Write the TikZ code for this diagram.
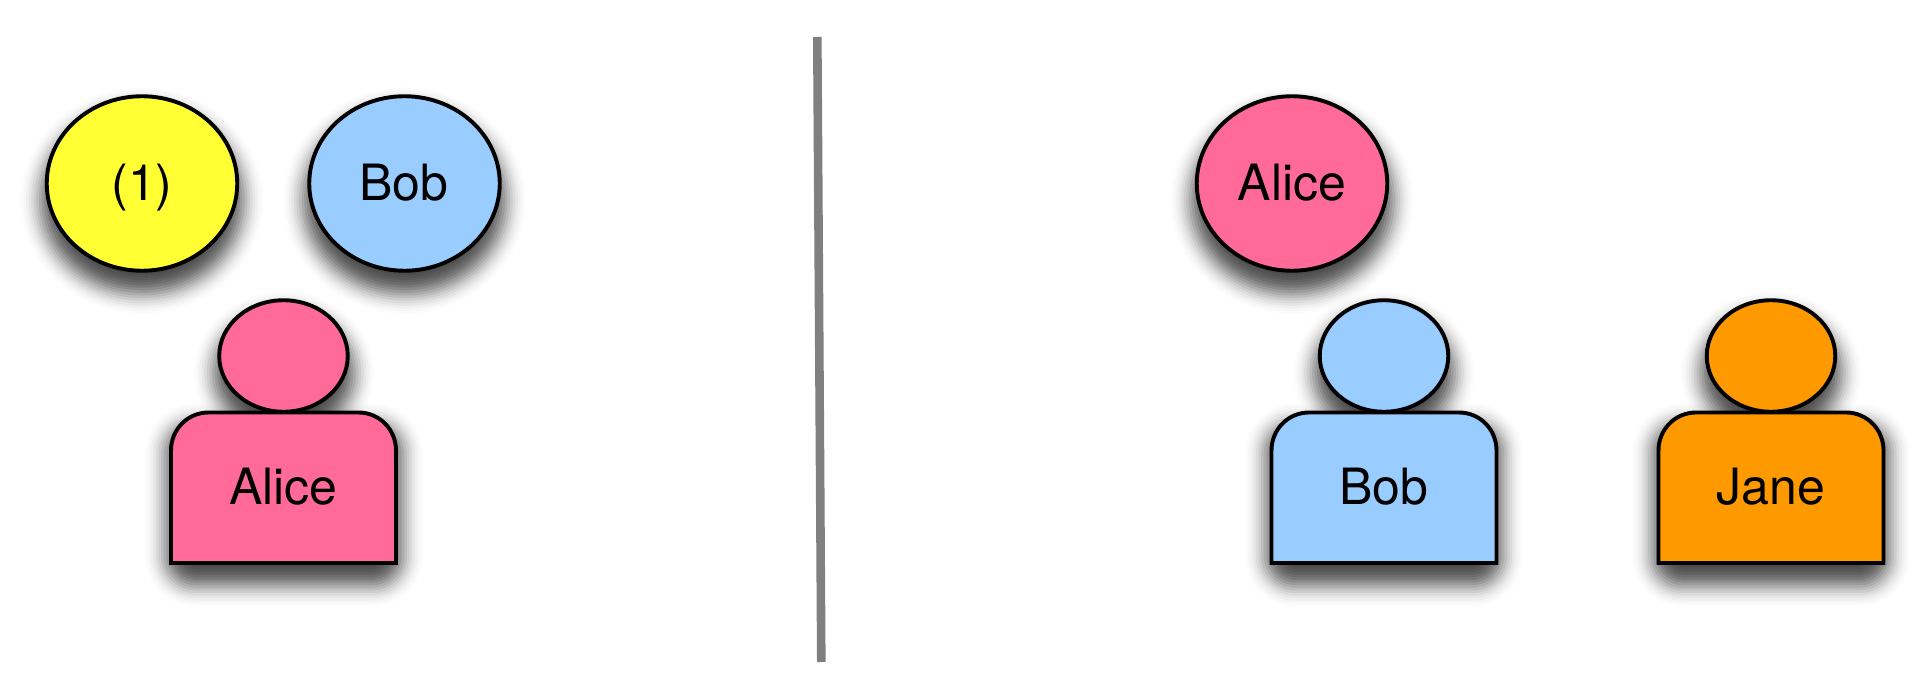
\documentclass[tikz,border=0pt]{standalone}
\usepackage{fontspec}
\setmainfont{TeX Gyre Heros}
\usetikzlibrary{shapes.geometric}
\definecolor{cyellow}{HTML}{FFFF33}
\definecolor{cblue}{HTML}{99CCFF}
\definecolor{cpink}{HTML}{FF6A99}
\definecolor{corange}{HTML}{FF9900}
\definecolor{cline}{HTML}{808080}
\newcommand\shadowlist{26/.012,23.4/.018,20.8/.027,18.2/.037,15.6/.05,13/.063,10.4/.075,7.8/.087,5.2/.097,2.6/.105,0/.108,-2.6/.105,-5.2/.097,-7.8/.087,-10.4/.075,-13/.063,-15.6/.05,-18.2/.037,-20.8/.027,-23.4/.018,-26/.012}
\newcommand\ellshadow[4]{%
  \foreach \r/\a in \shadowlist {%
    \fill[black,fill opacity=\a] (#1,#2+17) ellipse [x radius=#3+\r, y radius=#4+\r];}}
\newcommand\bodyshadow[4]{%
  \foreach \r/\a in \shadowlist {%
    \pgfmathsetmacro\cr{1.5+(\r+26)*0.9}
    \fill[black,fill opacity=\a,rounded corners=\cr pt] (#1-\r,#2+17-\r) rectangle (#3+\r,#4+17+\r);}}
\newcommand\person[4]{% name, cx, colour, label
  \node[headshape,fill=#3] (#1head) at (#2,356) {};
  \draw[outline,fill=#3] (#2-112.5,563) -- (#2-112.5,450.5)
     .. controls (#2-112.5,429.5) and (#2-96,412.5) .. (#2-75,412.5)
     -- (#2+75,412.5)
     .. controls (#2+96,412.5) and (#2+112.5,429.5) .. (#2+112.5,450.5)
     -- (#2+112.5,563) -- cycle;
  \node[txt] (#1body) at (#2,504) {#4};
}
\tikzset{
  outline/.style={draw=black,line width=3.9pt},
  bigell/.style={outline,ellipse,minimum width=190.5pt,minimum height=174.5pt,inner sep=0pt,outer sep=0pt},
  headshape/.style={outline,ellipse,minimum width=128.5pt,minimum height=111.5pt,inner sep=0pt,outer sep=0pt},
  txt/.style={anchor=base,inner sep=0pt,font=\fontsize{50}{50}\selectfont},
  divider/.style={draw=cline,line width=8.6pt}
}
\begin{document}
\begin{tikzpicture}[x=1pt,y=-1pt]
\useasboundingbox (0,0) rectangle (1929,700);
\fill[white] (0,0) rectangle (1929,700);
% shadows
\ellshadow{142}{183.5}{95.25}{87.25}
\ellshadow{404.5}{183.5}{95.25}{87.25}
\ellshadow{1292}{183.5}{95.25}{87.25}
\foreach \c in {284,1384,1771}{%
  \ellshadow{\c}{356}{64.25}{55.75}
  \bodyshadow{\c-112.5}{412.5}{\c+112.5}{563}
}
% divider
\coordinate (dtop) at (817.3,37);
\coordinate (dbot) at (821.3,662);
\draw[divider] (dtop) -- (dbot);
% upper ellipses
\node[bigell,fill=cyellow] (one) at (142,183.5) {};
\node[bigell,fill=cblue] (bobq) at (404.5,183.5) {};
\node[bigell,fill=cpink] (aliceq) at (1292,183.5) {};
\node[txt] (onet) at (142,200.5) {(1)};
\node[txt] (bobt) at (404,200.5) {Bob};
\node[txt] (alicet) at (1292,200.5) {Alice};
% people
\person{alice}{283.5}{cpink}{Alice}
\person{bob}{1384}{cblue}{Bob}
\person{jane}{1771}{corange}{Jane}
\end{tikzpicture}
\end{document}
